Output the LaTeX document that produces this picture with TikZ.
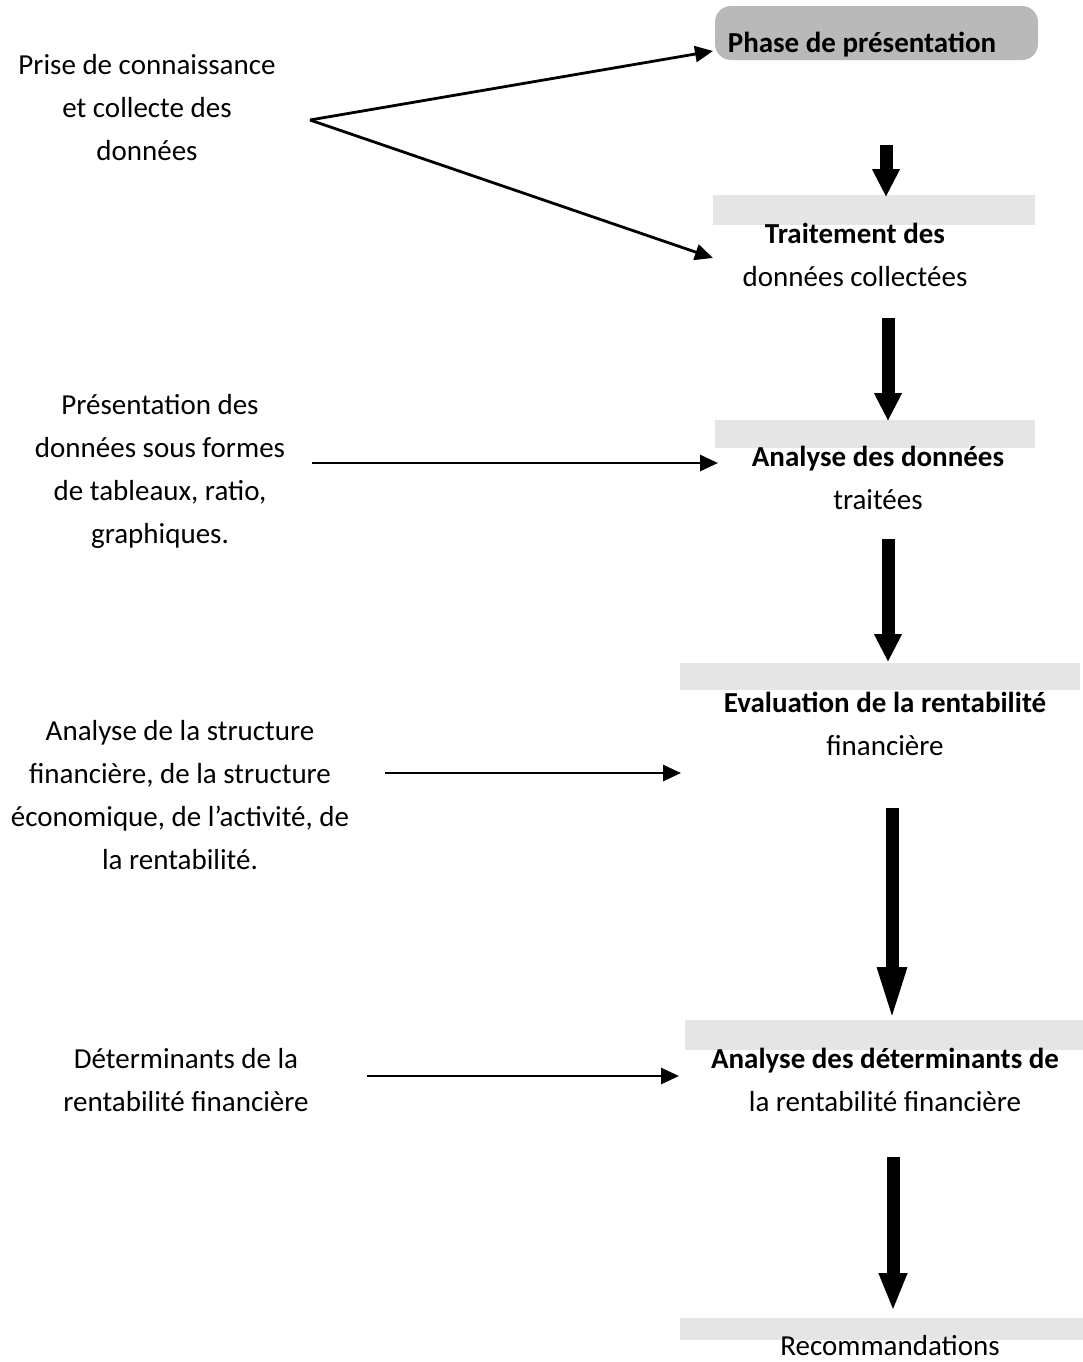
\documentclass[tikz,border=0pt]{standalone}
\usepackage{fontspec}
\setmainfont{Carlito}
\usetikzlibrary{arrows.meta}

\tikzset{
  txt/.style={align=center, font=\fontsize{14.5}{21.5}\selectfont, inner sep=0pt},
  flow/.style={-{Triangle[length=9pt,width=8pt]}, line width=1.4pt},
  bigflow/.style={-{Triangle[length=14pt,width=13pt]}, line width=6.5pt},
  band/.style={fill=gray!20, draw=none},
}

\begin{document}
\begin{tikzpicture}[x=0.5pt, y=-0.5pt]
  \useasboundingbox (0,0) rectangle (1083,1362);
  % grey bands behind the steps
  \fill[gray!55, rounded corners=8pt] (715,6) rectangle (1038,60);
  \fill[band] (713,195) rectangle (1035,225);
  \fill[band] (715,420) rectangle (1035,448);
  \fill[band] (680,663) rectangle (1080,690);
  \fill[band] (685,1020) rectangle (1083,1050);
  \fill[band] (680,1318) rectangle (1083,1340);

  % left column
  \node[txt] (collecte) at (147,108) {Prise de connaissance\\et collecte des\\données};
  \node[txt] (presentation) at (160,471) {Présentation des\\données sous formes\\de tableaux, ratio,\\graphiques.};
  \node[txt] (structure) at (180,795) {Analyse de la structure\\financière, de la structure\\économique, de l’activité, de\\la rentabilité.};
  \node[txt] (facteurs) at (186,1080) {Déterminants de la\\rentabilité financière};

  % right column
  \node[txt] (phase) at (862,45) {\textbf{Phase de présentation}};
  \node[txt] (traitement) at (855,255) {\textbf{Traitement des}\\données collectées};
  \node[txt] (analyse) at (878,478) {\textbf{Analyse des données}\\traitées};
  \node[txt] (evaluation) at (885,724) {\textbf{Evaluation de la rentabilité}\\financière};
  \node[txt] (determinants) at (885,1080) {\textbf{Analyse des déterminants de}\\la rentabilité financière};
  \node[txt] (recommandations) at (890,1346) {Recommandations};

  % horizontal arrows
  \coordinate (fork) at (310,120);
  \coordinate (phasein) at (713,51);
  \coordinate (traitin) at (713,258);
  \draw[flow] (fork) -- (phasein);
  \draw[flow] (fork) -- (traitin);
  \coordinate (pres1) at (312,463);
  \coordinate (pres2) at (718,463);
  \draw[flow] (pres1) -- (pres2);
  \coordinate (struc1) at (385,773);
  \coordinate (struc2) at (681,773);
  \draw[flow] (struc1) -- (struc2);
  \coordinate (fact1) at (367,1076);
  \coordinate (fact2) at (679,1076);
  \draw[flow] (fact1) -- (fact2);

  % vertical arrows
  \draw[bigflow] (886,145) -- (886,197);
  \draw[bigflow] (888,318) -- (888,421);
  \draw[bigflow] (888,539) -- (888,662);
  \draw[bigflow, -{Triangle[length=28pt,width=13pt]}] (892,808) -- (892,1023);
  \draw[bigflow, -{Triangle[length=19pt,width=13pt]}] (893,1157) -- (893,1311);
\end{tikzpicture}
\end{document}
